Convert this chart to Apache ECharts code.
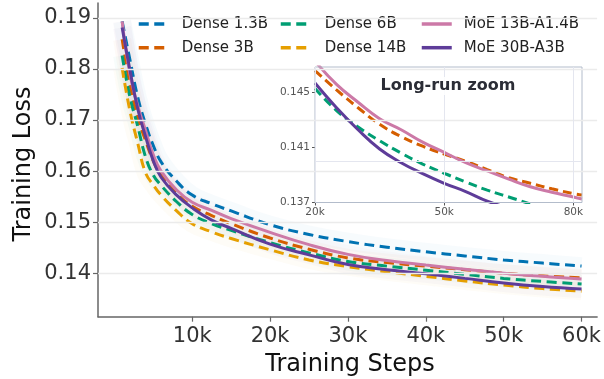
<!DOCTYPE html>
<html>
<head>
<meta charset="utf-8">
<script src="https://cdn.jsdelivr.net/npm/echarts@6/dist/echarts.min.js"></script>
<style>
  html, body { margin: 0; padding: 0; background: #ffffff; }
  #chart { width: 604px; height: 379px; }
</style>
</head>
<body>
<div id="chart"></div>
<script>
// ---- main panel: smoothed training loss vs. steps ----
const steps = [1000, 2000, 3000, 4000, 5000, 6000, 8000, 10000, 12500, 15000,
               20000, 25000, 30000, 35000, 40000, 45000, 50000, 55000, 60000];
const dense13B = [0.1893, 0.1818, 0.1745, 0.1692, 0.1650, 0.1618, 0.1580, 0.1553, 0.1536, 0.1522,
                  0.1495, 0.1476, 0.1462, 0.1451, 0.1442, 0.1434, 0.1426, 0.1420, 0.1414];
const dense3B  = [0.1858, 0.1770, 0.1705, 0.1660, 0.1620, 0.1592, 0.1556, 0.1531, 0.1513, 0.1497,
                  0.1469, 0.1447, 0.1430, 0.1421, 0.1414, 0.1407, 0.1400, 0.1395, 0.1391];
const dense6B  = [0.1826, 0.1745, 0.1688, 0.1628, 0.1592, 0.1572, 0.1540, 0.1515, 0.1497, 0.1484,
                  0.1460, 0.1440, 0.1423, 0.1414, 0.1406, 0.1398, 0.1390, 0.1384, 0.1379];
const dense14B = [0.1802, 0.1718, 0.1655, 0.1597, 0.1573, 0.1553, 0.1522, 0.1497, 0.1481, 0.1468,
                  0.1446, 0.1426, 0.1413, 0.1403, 0.1394, 0.1385, 0.1377, 0.1370, 0.1365];
const moe13B   = [0.1893, 0.1790, 0.1728, 0.1680, 0.1632, 0.1600, 0.1563, 0.1539, 0.1523, 0.1507,
                  0.1480, 0.1456, 0.1437, 0.1425, 0.1416, 0.1408, 0.1400, 0.1394, 0.1389];
const moe30B   = [0.1881, 0.1798, 0.1722, 0.1668, 0.1620, 0.1588, 0.1553, 0.1528, 0.1504, 0.1488,
                  0.1457, 0.1436, 0.1417, 0.1407, 0.1399, 0.1390, 0.1381, 0.1374, 0.1369];

const xTicks = [10000, 20000, 30000, 40000, 50000, 60000];
const yTicks = [0.14, 0.15, 0.16, 0.17, 0.18, 0.19];

// ---- inset: longer runs, 20k-82k ----
const insetSteps = [20000, 25000, 30000, 35000, 40000, 45000, 50000, 55000, 60000,
                    65000, 70000, 75000, 80000, 82000];
const insetDense3B = [0.1466, 0.1452, 0.1439, 0.1427, 0.1418, 0.1411, 0.14053, 0.1400, 0.1394,
                      0.1388, 0.1384, 0.1380, 0.13765, 0.13755];
const insetDense6B = [0.1453, 0.1437, 0.1425, 0.1415, 0.1406, 0.1398, 0.13913, 0.1385, 0.1379,
                      0.1374, 0.1369];
const insetMoe13B  = [0.1473, 0.1456, 0.1443, 0.1431, 0.1423, 0.1414, 0.14065, 0.1399, 0.1393,
                      0.1387, 0.13815, 0.13775, 0.1374, 0.13725];
const insetMoe30B  = [0.1457, 0.1439, 0.1423, 0.1409, 0.1399, 0.1391, 0.1384, 0.1378, 0.1371,
                      0.1366];
const insetXTicks = [20000, 50000, 80000];
const insetYTicks = [0.137, 0.141, 0.145];

const FONT = 'DejaVu Sans';
const COLORS = {
  'Dense 1.3B': '#0072B2',
  'Dense 3B': '#D55E00',
  'Dense 6B': '#009E73',
  'Dense 14B': '#E69F00',
  'MoE 13B-A1.4B': '#CC79A7',
  'MoE 30B-A3B': '#5E3C99'
};
const mainRuns = [
  { name: 'Dense 1.3B', values: dense13B, dashed: true },
  { name: 'Dense 3B', values: dense3B, dashed: true },
  { name: 'Dense 6B', values: dense6B, dashed: true },
  { name: 'Dense 14B', values: dense14B, dashed: true },
  { name: 'MoE 13B-A1.4B', values: moe13B, dashed: false },
  { name: 'MoE 30B-A3B', values: moe30B, dashed: false }
];
const insetRuns = [
  { name: 'Dense 3B', steps: insetSteps, values: insetDense3B, dashed: true },
  { name: 'Dense 6B', steps: insetSteps, values: insetDense6B, dashed: true },
  { name: 'MoE 13B-A1.4B', steps: insetSteps, values: insetMoe13B, dashed: false },
  { name: 'MoE 30B-A3B', steps: insetSteps, values: insetMoe30B, dashed: false }
];

function pairs(xs, ys) { return ys.map((v, i) => [xs[i], v]); }
function kfmt(v) { return Math.round(v / 1000) + 'k'; }

const SMOOTH = 0.45;
const series = [];

// main-panel horizontal grid lines
series.push({
  type: 'line', xAxisIndex: 0, yAxisIndex: 0, data: [], silent: true, z: 0,
  markLine: {
    silent: true, symbol: ['none', 'none'], label: { show: false },
    lineStyle: { color: '#ebebeb', type: 'solid', width: 1.3 },
    emphasis: { disabled: true },
    data: yTicks.map(v => ({ yAxis: v }))
  }
});

// faint wide bands behind each curve (spread of the raw loss)
mainRuns.forEach(r => {
  series.push({
    type: 'line', xAxisIndex: 0, yAxisIndex: 0, silent: true, z: 1,
    data: pairs(steps, r.values), smooth: SMOOTH,
    showSymbol: false, symbol: 'none',
    lineStyle: { color: COLORS[r.name], width: 18, opacity: 0.03 }
  });
});

// smoothed curves
mainRuns.forEach(r => {
  series.push({
    name: r.name, type: 'line', xAxisIndex: 0, yAxisIndex: 0, z: 3,
    data: pairs(steps, r.values), smooth: SMOOTH,
    showSymbol: false, symbol: 'none',
    lineStyle: {
      color: COLORS[r.name], width: 3,
      type: r.dashed ? [10, 5.5] : 'solid'
    },
    itemStyle: { color: COLORS[r.name] }
  });
});

// inset grid lines
series.push({
  type: 'line', xAxisIndex: 1, yAxisIndex: 1, data: [], silent: true, z: 0,
  markLine: {
    silent: true, symbol: ['none', 'none'], label: { show: false },
    lineStyle: { color: '#e4e6ef', type: 'solid', width: 1 },
    emphasis: { disabled: true },
    data: insetYTicks.map(v => ({ yAxis: v })).concat(insetXTicks.map(v => ({ xAxis: v })))
  }
});

// inset curves
insetRuns.forEach(r => {
  series.push({
    type: 'line', xAxisIndex: 1, yAxisIndex: 1, z: 3, silent: true,
    data: pairs(r.steps, r.values), smooth: SMOOTH,
    showSymbol: false, symbol: 'none', clip: true,
    lineStyle: {
      color: COLORS[r.name], width: 3,
      type: r.dashed ? [9, 5] : 'solid'
    }
  });
});

function legendCol(names, left, iconW, textPad) {
  return {
    data: names, orient: 'vertical', left: left, top: 16, padding: 0,
    itemWidth: iconW, itemHeight: 14, itemGap: 7.7,
    selectedMode: false,
    itemStyle: { opacity: 0 },
    lineStyle: { width: 3.5 },
    textStyle: { fontFamily: FONT, fontSize: 15, color: '#222', lineHeight: 16,
                 padding: [0, 0, 0, textPad] }
  };
}

const option = {
  animation: false,
  backgroundColor: '#ffffff',
  textStyle: { fontFamily: FONT },
  grid: [
    { left: 98, top: 3, width: 499.7, height: 313.7, containLabel: false },
    { left: 315, top: 67, width: 267, height: 135.5, containLabel: false,
      show: true, borderColor: '#b3bccb', borderWidth: 1, backgroundColor: 'transparent', z: 4 }
  ],
  legend: [
    legendCol(['Dense 1.3B', 'Dense 3B'], 137, 29, 9),
    legendCol(['Dense 6B', 'Dense 14B'], 279, 29, 10),
    legendCol(['MoE 13B-A1.4B', 'MoE 30B-A3B'], 420, 30, 7)
  ],
  xAxis: [
    {
      type: 'value', gridIndex: 0, min: -2100, max: 62000,
      axisLine: { show: true, onZero: false, lineStyle: { color: '#666', width: 1.5 } },
      axisTick: { show: true, length: 5, customValues: xTicks, lineStyle: { color: '#666', width: 1.2 } },
      axisLabel: { customValues: xTicks, formatter: kfmt, fontSize: 21, color: '#333',
                   fontFamily: FONT, margin: 9 },
      splitLine: { show: false }
    },
    {
      type: 'value', gridIndex: 1, min: 20000, max: 82000,
      axisLine: { show: false, onZero: false },
      axisTick: { show: true, length: 3, customValues: insetXTicks, lineStyle: { color: '#555', width: 1 } },
      axisLabel: { customValues: insetXTicks, formatter: kfmt, fontSize: 10.5, color: '#555',
                   fontFamily: FONT, margin: 4 },
      splitLine: { show: false }
    }
  ],
  yAxis: [
    {
      type: 'value', gridIndex: 0, min: 0.1315, max: 0.1929,
      axisLine: { show: true, onZero: false, lineStyle: { color: '#666', width: 1.5 } },
      axisTick: { show: true, length: 5, customValues: yTicks, lineStyle: { color: '#666', width: 1.2 } },
      axisLabel: { customValues: yTicks, formatter: v => v.toFixed(2), fontSize: 21, color: '#333',
                   fontFamily: FONT, margin: 7 },
      splitLine: { show: false }
    },
    {
      type: 'value', gridIndex: 1, min: 0.137, max: 0.14687,
      axisLine: { show: false, onZero: false },
      axisTick: { show: true, length: 3, customValues: insetYTicks, lineStyle: { color: '#555', width: 1 } },
      axisLabel: { customValues: insetYTicks, formatter: v => v.toFixed(3), fontSize: 10.5, color: '#555',
                   fontFamily: FONT, margin: 5 },
      splitLine: { show: false }
    }
  ],
  graphic: [
    { type: 'text', x: 24, y: 164, rotation: Math.PI / 2, z: 10,
      style: { text: 'Training Loss', fontFamily: FONT, fontSize: 24, fill: '#111',
               textAlign: 'center', textVerticalAlign: 'middle' } },
    { type: 'text', x: 350, y: 365, z: 10,
      style: { text: 'Training Steps', fontFamily: FONT, fontSize: 24, fill: '#111',
               textAlign: 'center', textVerticalAlign: 'middle' } },
    { type: 'text', x: 448, y: 86, z: 20,
      style: { text: 'Long-run zoom', fontFamily: FONT, fontSize: 16, fontWeight: 'bold',
               fill: '#2b2d36', textAlign: 'center', textVerticalAlign: 'middle',
               backgroundColor: 'rgba(255,255,255,0.85)', padding: [1, 3] } }
  ],
  series: series
};

const chart = echarts.init(document.getElementById('chart'), null, { renderer: 'canvas' });
chart.setOption(option);
</script>
</body>
</html>
